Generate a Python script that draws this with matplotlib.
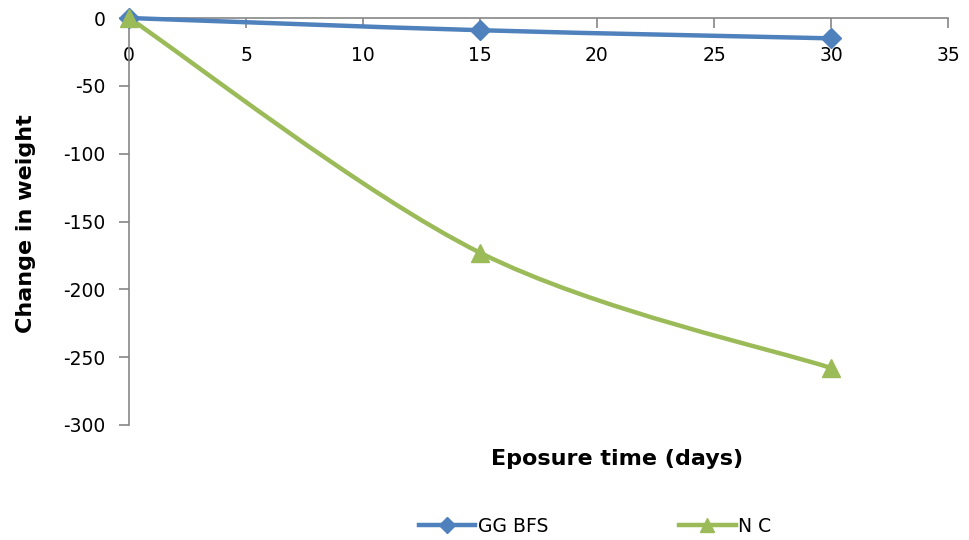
import numpy as np
import matplotlib
matplotlib.use("Agg")
import matplotlib.pyplot as plt
from matplotlib.path import Path
from matplotlib.patches import PathPatch
from matplotlib.lines import Line2D

plt.rcParams['font.family'] = ['DejaVu Sans']
plt.rcParams['axes.unicode_minus'] = False

days = [0, 15, 30]
ggbfs = [0, -9, -15]
nc = [0, -173, -258]
xticks = [0, 5, 10, 15, 20, 25, 30, 35]
yticks = [0, -50, -100, -150, -200, -250, -300]

BLUE = '#4F81BD'
GREEN = '#9BBB59'
GRAY = '#868686'

fig = plt.figure(figsize=(9.69, 5.4), dpi=100)
ax = fig.add_axes([129/969, 1-425/540, (948-129)/969, (425-18)/540])
ax.set_xlim(0, 35)
ax.set_ylim(-300, 0)

def smooth_path(xs, ys, t=1/6):
    pts = np.column_stack([xs, ys]).astype(float)
    n = len(pts)
    verts = [pts[0]]
    codes = [Path.MOVETO]
    for i in range(n-1):
        p0 = pts[i-1] if i > 0 else pts[i]
        p1 = pts[i]
        p2 = pts[i+1]
        p3 = pts[i+2] if i+2 < n else pts[i+1]
        c1 = p1 + (p2 - p0) * t
        c2 = p2 - (p3 - p1) * t
        verts += [c1, c2, p2]
        codes += [Path.CURVE4]*3
    return Path(verts, codes)

for ys, col, mk, ms in [(ggbfs, BLUE, 'D', 10), (nc, GREEN, '^', 13)]:
    patch = PathPatch(smooth_path(days, ys), facecolor='none', edgecolor=col,
                      lw=3.2, transform=ax.transData, clip_on=False, zorder=3)
    ax.add_patch(patch)
    ax.plot(days, ys, linestyle='none', marker=mk, ms=ms, color=col,
            clip_on=False, zorder=4)

ax.spines['right'].set_visible(False)
ax.spines['top'].set_visible(False)
ax.spines['bottom'].set_position(('data', 0))
for s in ['left', 'bottom']:
    ax.spines[s].set_color(GRAY)
    ax.spines[s].set_linewidth(1.2)

ax.set_xticks(xticks)
ax.set_xticklabels([str(v) for v in xticks])
ax.set_yticks(yticks)
ax.set_yticklabels([str(v) for v in yticks])
ax.tick_params(axis='both', colors=GRAY, labelcolor='#000000', labelsize=13.5,
               length=7, width=1.2, direction='out')
ax.tick_params(axis='x', pad=13)
ax.tick_params(axis='y', pad=10)

fig.text(26/969, 1-224/540, 'Change in weight', rotation=90, ha='center', va='center',
         fontsize=16, fontweight='bold')
fig.text(617/969, 1-459/540, 'Eposure time (days)', ha='center', va='center',
         fontsize=16, fontweight='bold')

handles = [Line2D([], [], color=BLUE, lw=3.2, marker='D', ms=8),
           Line2D([], [], color=GREEN, lw=3.2, marker='^', ms=10)]
fig.legend(handles, ['GG BFS', 'N C'], loc='center', bbox_to_anchor=(595/969, 1-526/540),
           ncol=2, frameon=False, fontsize=13.5, handlelength=3.0, handletextpad=0.15,
           columnspacing=7)

fig.savefig('out.png', dpi=100)
